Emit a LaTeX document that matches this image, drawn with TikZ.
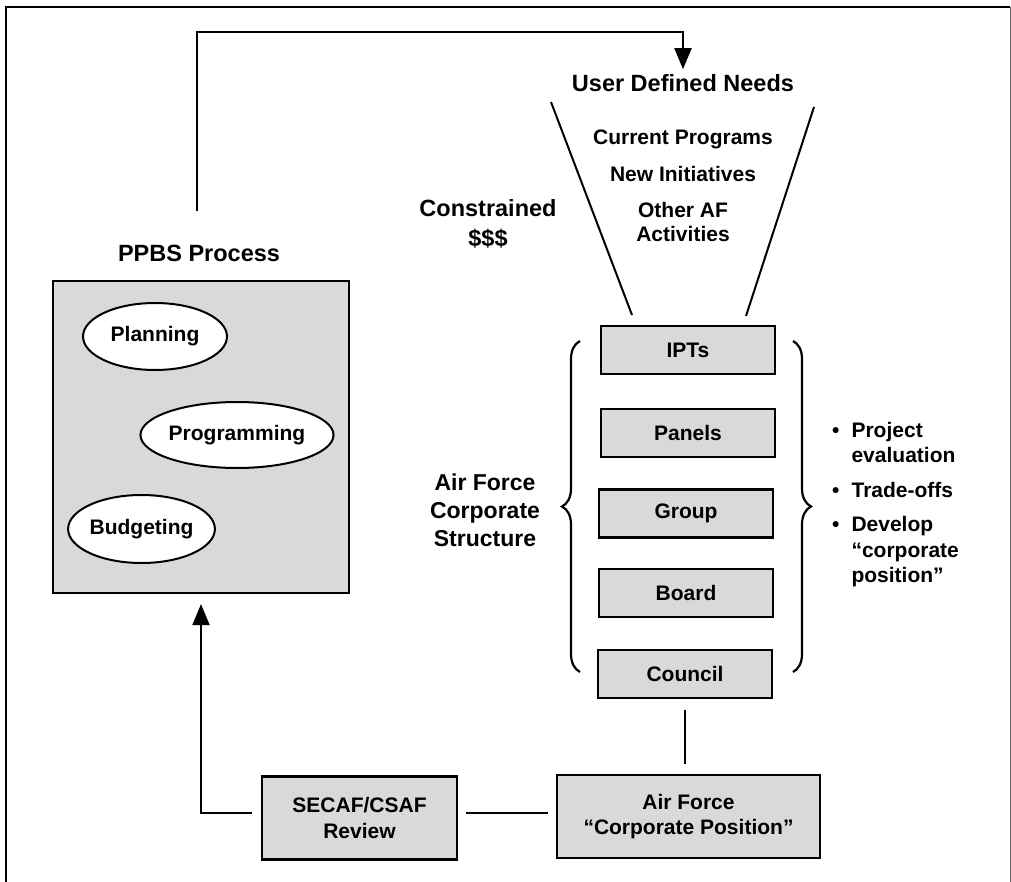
\documentclass[tikz,border=0pt]{standalone}
\usepackage{fontspec}
\setmainfont{Liberation Sans}
\usepackage{tikz}
\usetikzlibrary{arrows.meta,shapes.geometric,decorations.pathreplacing}
\definecolor{boxgray}{RGB}{217,217,217}
\newcommand{\headfont}{\bfseries\fontsize{23.5}{29}\selectfont}
\newcommand{\itemfont}{\bfseries\fontsize{21}{25.5}\selectfont}
\begin{document}
\begin{tikzpicture}[x=1pt, y=-1pt,
	stage/.style={draw, line width=2.2pt, fill=boxgray, minimum width=174pt, minimum height=48pt, font=\itemfont, align=center, inner sep=0pt},
	oval/.style={ellipse, draw, line width=2pt, fill=white, font=\itemfont, inner sep=0pt},
	head/.style={font=\headfont, align=center, inner sep=0pt},
	plain/.style={font=\itemfont, align=center, inner sep=0pt},
	link/.style={line width=2pt},
	flow/.style={line width=2pt, -{Triangle[length=21pt, width=17pt]}},
	curly/.style={line width=2.2pt, decorate, decoration={brace, amplitude=18pt}}]
	\useasboundingbox (0,0) rectangle (1011,882);
	\draw[line width=2.5pt] (6,882) -- (6,7) -- (1010,7);
	\draw[line width=1pt, black!60] (1010,7) -- (1010,882);
	\node[head] (ppbstitle) at (199,253) {PPBS Process};
	\node[stage, minimum width=296pt, minimum height=312pt] (ppbs) at (201,437) {};
	\node[oval, minimum width=144pt, minimum height=67pt] (plan) at (155,336.5) {Planning};
	\node[oval, minimum width=176pt, minimum height=66pt] (prog) at (237,435) {Programming};
	\node[oval, minimum width=143pt, minimum height=68pt] (budg) at (141.5,529) {Budgeting};
	\node[head] (needs) at (683,83) {User Defined Needs};
	\node[plain] (current) at (683,139) {Current Programs};
	\node[plain] (newinit) at (683,174) {New Initiatives};
	\node[plain, font=\bfseries\fontsize{21}{24}\selectfont] (other) at (683,222) {Other AF\\Activities};
	\node[head, font=\bfseries\fontsize{23.5}{30}\selectfont] (money) at (488,224) {Constrained\\\$\$\$};
	\node[stage] (ipts) at (688,350) {IPTs};
	\node[stage] (panels) at (688,433) {Panels};
	\node[stage] (group) at (686,513.5) {Group};
	\node[stage] (board) at (686,593) {Board};
	\node[stage] (council) at (685,674) {Council};
	\node[head, font=\bfseries\fontsize{23}{28}\selectfont] (corp) at (485,510) {Air Force\\Corporate\\Structure};
	\node[plain, anchor=west, align=left] (tasks) at (832,505) {\begin{tabular}{@{}l@{\hspace{12pt}}l@{}}
		\textbullet & Project\\ & evaluation\\[9pt]
		\textbullet & Trade-offs\\[9pt]
		\textbullet & Develop\\ & ``corporate\\ & position''
	\end{tabular}};
	\node[stage, minimum width=195pt, minimum height=83pt] (secaf) at (359.5,818) {SECAF/CSAF\\Review};
	\node[stage, minimum width=263pt, minimum height=83pt] (afpos) at (688.5,816.5) {Air Force\\``Corporate Position''};
	\coordinate (funnelA) at (551,102);
	\coordinate (funnelB) at (632,315);
	\coordinate (funnelC) at (814,107);
	\coordinate (funnelD) at (746,316);
	\coordinate (loop) at (197,211);
	\draw[link] (funnelA) -- (funnelB) (funnelC) -- (funnelD);
	\draw[flow] (loop) |- (197,32) -| ([yshift=5pt]needs.north);
	\draw[curly] (580,672) -- (580,341);
	\draw[curly] (793,341) -- (793,672);
	\draw[link, shorten <=11pt, shorten >=10pt] (council.south) -- (council.south |- afpos.north);
	\draw[link, shorten <=8pt, shorten >=8pt] ([yshift=5pt]secaf.east) -- ([yshift=5pt]secaf.east -| afpos.west);
	\draw[flow, shorten <=9pt, shorten >=10pt] ([yshift=5pt]secaf.west) -| (ppbs.south);
\end{tikzpicture}
\end{document}
